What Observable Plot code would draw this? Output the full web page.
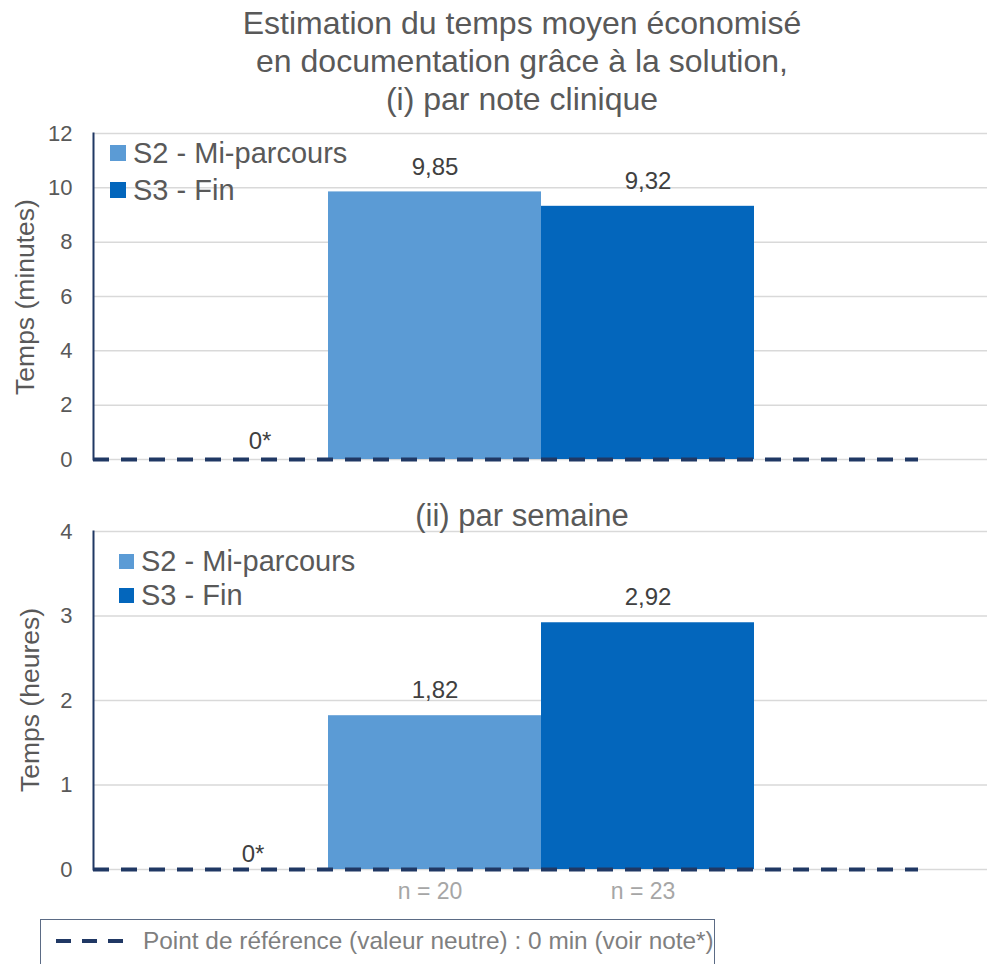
<!DOCTYPE html>
<html lang="fr">
<head>
<meta charset="utf-8">
<script src="https://cdn.jsdelivr.net/npm/d3@7"></script>
<script src="https://cdn.jsdelivr.net/npm/@observablehq/plot@0.6"></script>
<style>
  html, body { margin: 0; padding: 0; background: #fff; }
  #wrap { position: relative; width: 987px; height: 964px; overflow: hidden;
          font-family: "Liberation Sans", Arial, sans-serif; color: #595959; }
  .abs { position: absolute; white-space: nowrap; }
  .title { left: 222px; width: 600px; text-align: center; font-size: 32px; line-height: 38px; }
  .ytitle { font-size: 26.5px; transform: translate(-50%, -50%) rotate(-90deg); }
  .leg { display: flex; align-items: center; font-size: 29px; line-height: 34px; }
  .sw { display: inline-block; margin-right: 7px; }
  .refbox { left: 40px; top: 919px; width: 675px; height: 60px; border: 1.5px solid #5b6b85;
            background: #fff; box-sizing: border-box; }
  .refrow { position: absolute; left: 14px; top: 6px; display: flex; align-items: center;
            font-size: 24.4px; line-height: 30px; color: #7f7f7f; }
  svg.panel { position: absolute; left: 0; }
</style>
</head>
<body>
<div id="wrap"></div>
<script>
// Séries comparées
const series = ["S2 - Mi-parcours", "S3 - Fin"];
const seriesColors = ["#5B9BD5", "#0366BC"];
// (i) temps économisé par note clinique, en minutes
const minutesParNote = [9.85, 9.32];
// (ii) temps économisé par semaine, en heures
const heuresParSemaine = [1.82, 2.92];
// Effectifs par série
const effectifs = ["n = 20", "n = 23"];
// Point de référence (valeur neutre)
const reference = 0;
const referenceLabel = "0*";
// Graduations
const ticksMinutes = [0, 2, 4, 6, 8, 10, 12];
const ticksHeures = [0, 1, 2, 3, 4];
// Emplacements sur l'axe horizontal
const slots = ["Référence", ...series, "—"];

const navy = "#203864";
const fmt = v => String(v).replace(".", ",");

function panel({values, ticks, height, marginTop, marginBottom, refDx, refDy, showN}) {
  const rows = series.map((s, i) => ({serie: s, valeur: values[i], n: effectifs[i]}));
  const marks = [
    Plot.ruleY(ticks, {stroke: "#d9d9d9", strokeWidth: 1.5, insetRight: -69}),
    Plot.axisY({ticks, tickSize: 0, tickPadding: 21, fontSize: 22, color: "#595959",
                tickFormat: d => fmt(d), label: null}),
    Plot.barY(rows, {x: "serie", y: "valeur", fill: "serie"}),
    Plot.frame({anchor: "left", stroke: navy, strokeWidth: 2}),
    Plot.ruleY([reference], {stroke: navy, strokeWidth: 4, strokeDasharray: "16,12"}),
    Plot.text(rows, {x: "serie", y: "valeur", text: d => fmt(d.valeur), dy: -25,
                     fontSize: 24, fill: "#404040"}),
    Plot.text([reference], {x: () => slots[0], y: d => d, text: () => referenceLabel,
                            dx: refDx, dy: refDy, fontSize: 24, fill: "#404040"})
  ];
  if (showN) {
    marks.push(Plot.text(rows, {x: "serie", text: "n", frameAnchor: "bottom", dy: 29, dx: -5,
                                fontSize: 23, fill: "#a6a6a6"}));
  }
  const svg = Plot.plot({
    width: 987, height, marginLeft: 93, marginRight: 69, marginTop, marginBottom,
    style: {fontFamily: "'Liberation Sans', Arial, sans-serif", background: "transparent", overflow: "visible"},
    x: {domain: slots, range: [113, 968], padding: 0, axis: null},
    y: {domain: [0, d3.max(ticks)], axis: null},
    color: {domain: series, range: seriesColors},
    marks
  });
  svg.classList.add("panel");
  return svg;
}

const wrap = document.getElementById("wrap");

// Panneau (i) : minutes par note clinique
const top1 = panel({values: minutesParNote, ticks: ticksMinutes, height: 360,
                    marginTop: 23, marginBottom: 11, refDx: 38, refDy: -18, showN: false});
top1.style.top = "110px";
wrap.appendChild(top1);

// Panneau (ii) : heures par semaine
const top2 = panel({values: heuresParSemaine, ticks: ticksHeures, height: 420,
                    marginTop: 31, marginBottom: 51, refDx: 31, refDy: -15, showN: true});
top2.style.top = "500px";
wrap.appendChild(top2);

function addDiv(cls, css, html) {
  const d = document.createElement("div");
  d.className = "abs " + cls;
  Object.assign(d.style, css);
  d.innerHTML = html;
  wrap.appendChild(d);
  return d;
}

addDiv("title", {top: "4px"},
  "Estimation du temps moyen économisé<br>en documentation grâce à la solution,<br>(i) par note clinique");
addDiv("title", {top: "497px", fontSize: "31px"}, "(ii) par semaine");

addDiv("ytitle", {left: "25px", top: "297px"}, "Temps (minutes)");
addDiv("ytitle", {left: "30px", top: "700px"}, "Temps (heures)");

function legend(x, y0, step, size) {
  series.forEach((s, i) => {
    addDiv("leg", {left: x + "px", top: (y0 + i * step - 17) + "px"},
      `<span class="sw" style="width:${size}px;height:${size}px;background:${seriesColors[i]}"></span>${s}`);
  });
}
legend(110, 152.5, 37, 16);
legend(119, 561, 34, 15);

// Encadré : point de référence
const box = addDiv("refbox", {}, "");
const row = document.createElement("div");
row.className = "refrow";
row.innerHTML = `<svg width="76" height="10" style="margin-right:12px">
  <line x1="1" y1="5" x2="76" y2="5" stroke="${navy}" stroke-width="4" stroke-dasharray="15,11"/></svg>
  Point de référence (valeur neutre) : 0 min (voir note*)`;
box.appendChild(row);
</script>
</body>
</html>
